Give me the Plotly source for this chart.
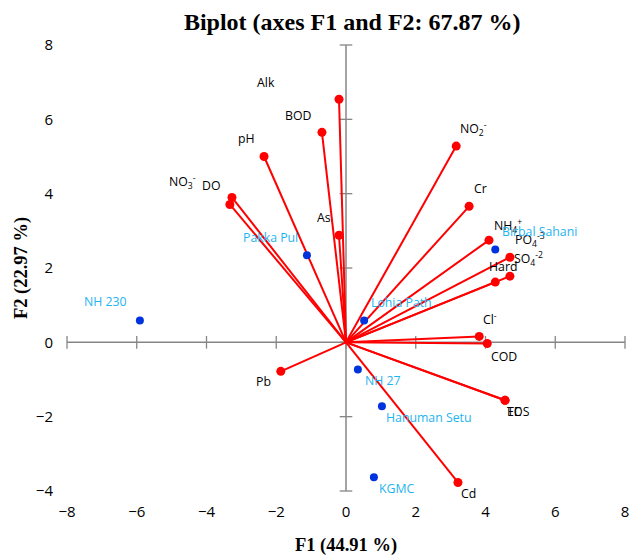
import plotly.graph_objects as go

# Variables (loadings scaled)
var_names = ["Alk", "BOD", "pH", "DO", "NO<sub>3</sub><sup>-</sup>", "As", "NO<sub>2</sub><sup>-</sup>", "Cr",
             "NH<sub>4</sub><sup>+</sup>", "PO<sub>4</sub><sup>-3</sup>", "SO<sub>4</sub><sup>-2</sup>", "Hard",
             "Cl<sup>-</sup>", "COD", "EC", "TDS", "Cd", "Pb"]
var_x = [-0.20, -0.69, -2.35, -3.27, -3.33, -0.20, 3.16, 3.53, 4.10, 4.70, 4.70, 4.28, 3.82, 4.05, 4.56, 4.56, 3.21, -1.87]
var_y = [6.54, 5.65, 5.00, 3.90, 3.71, 2.88, 5.28, 3.66, 2.75, 2.29, 1.78, 1.62, 0.16, -0.03, -1.56, -1.56, -3.77, -0.78]
var_dx = [-73, -23, -18, -20, -47, -15, 17, 11, 19, 20, 19, 8, 11, 17, 9, 13, 11, -17]
var_dy = [17, 17, 18, 12, 22, 18, 17, 18, 14, 17, 17, 16, 17, -13, -11, -11, -11, -10]

# Observations
obs_names = ["NH 230", "Pakka Pul", "Birbal Sahani", "Lohia Path", "NH 27", "Hanuman Setu", "KGMC"]
obs_x = [-5.91, -1.12, 4.28, 0.52, 0.34, 1.03, 0.80]
obs_y = [0.59, 2.34, 2.50, 0.59, -0.73, -1.72, -3.63]
obs_dx = [-34, -36, 44, 37, 25, 47, 23]
obs_dy = [19, 18, 18, 18, -11, -11, -11]

ticks = [-8, -6, -4, -2, 0, 2, 4, 6, 8]
yticks = [-4, -2, 0, 2, 4, 6, 8]

fig = go.Figure()

axis_col = "#868686"
# axis lines through origin
fig.add_trace(go.Scatter(x=[ticks[0], ticks[-1]], y=[0, 0], mode="lines",
                         line=dict(color=axis_col, width=1.5), hoverinfo="skip", showlegend=False))
fig.add_trace(go.Scatter(x=[0, 0], y=[yticks[0], yticks[-1]], mode="lines",
                         line=dict(color=axis_col, width=1.5), hoverinfo="skip", showlegend=False))
# tick marks
fig.add_trace(go.Scatter(x=ticks, y=[0] * len(ticks), mode="markers",
                         marker=dict(symbol="line-ns", size=9, line=dict(color=axis_col, width=1.3)),
                         hoverinfo="skip", showlegend=False, cliponaxis=False))
fig.add_trace(go.Scatter(x=[0] * len(yticks), y=yticks, mode="markers",
                         marker=dict(symbol="line-ew", size=9, line=dict(color=axis_col, width=1.3)),
                         hoverinfo="skip", showlegend=False, cliponaxis=False))

# vectors
lx, ly = [], []
for x, y in zip(var_x, var_y):
    lx += [0, x, None]
    ly += [0, y, None]
fig.add_trace(go.Scatter(x=lx, y=ly, mode="lines", line=dict(color="#FF0000", width=2),
                         hoverinfo="skip", showlegend=False))
fig.add_trace(go.Scatter(x=var_x, y=var_y, mode="markers",
                         marker=dict(color="#FF0000", size=9), showlegend=False))
fig.add_trace(go.Scatter(x=obs_x, y=obs_y, mode="markers",
                         marker=dict(color="#0033DD", size=8), showlegend=False))

ann = []
for n, x, y, dx, dy in zip(var_names, var_x, var_y, var_dx, var_dy):
    ann.append(dict(x=x, y=y, text=n, showarrow=False, xshift=dx, yshift=dy,
                    font=dict(family="Open Sans", size=12.3, color="#000000")))
for n, x, y, dx, dy in zip(obs_names, obs_x, obs_y, obs_dx, obs_dy):
    ann.append(dict(x=x, y=y, text=n, showarrow=False, xshift=dx, yshift=dy,
                    font=dict(family="Open Sans", size=12.3, color="#1EB4F0")))

fig.update_layout(
    width=629, height=558,
    margin=dict(l=67, r=4, t=45, b=67, autoexpand=False),
    paper_bgcolor="white", plot_bgcolor="white",
    title=dict(text="<b>Biplot (axes F1 and F2: 67.87 %)</b>", x=0.56, xanchor="center",
               xref="container", yref="container", y=1 - 22 / 558, yanchor="middle",
               automargin=False,
               font=dict(family="Liberation Serif", size=24, color="#000000")),
    annotations=ann,
    xaxis=dict(range=[-8, 8], tickvals=ticks, showgrid=False, zeroline=False, showline=False,
               ticks="", ticklabelstandoff=10, automargin=False, ticklabeloverflow="allow",
               tickfont=dict(family="Open Sans", size=15, color="#000000"),
               title=dict(text="<b>F1 (44.91 %)</b>", standoff=18,
                          font=dict(family="Liberation Serif", size=18.5, color="#000000"))),
    yaxis=dict(range=[-4, 8], tickvals=yticks, showgrid=False, zeroline=False, showline=False,
               ticks="", ticklabelstandoff=13, automargin=False, ticklabeloverflow="allow",
               tickfont=dict(family="Open Sans", size=15, color="#000000"),
               title=dict(text="<b>F2 (22.97 %)</b>", standoff=3,
                          font=dict(family="Liberation Serif", size=18.5, color="#000000"))),
)

fig.write_html("out.html", config={"displayModeBar": False},
               post_script="document.body.style.margin='0';")
